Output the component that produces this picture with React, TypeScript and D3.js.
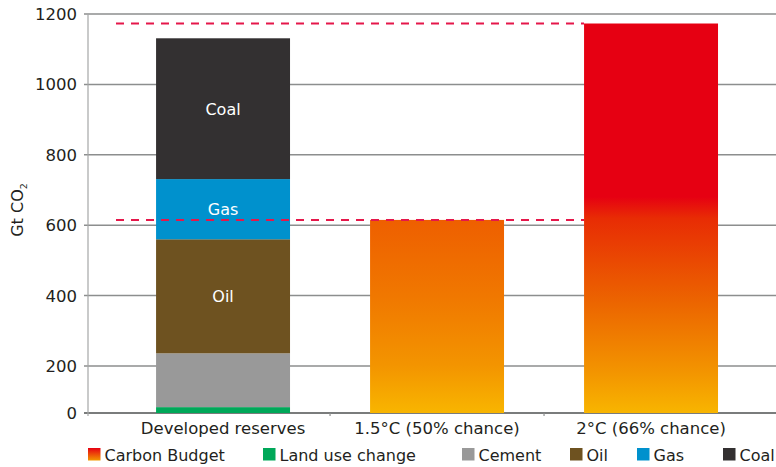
import React from "react";
import * as d3 from "d3";

// Categories along the x axis
const categories = ["Developed reserves", "1.5°C (50% chance)", "2°C (66% chance)"];

// Developed reserves broken down by source (Gt CO2), stacked bottom to top
const sources = ["Land use change", "Cement", "Oil", "Gas", "Coal"];
const reserveValues = [25, 211, 324, 171, 400];
const labelledSources = ["Oil", "Gas", "Coal"];

// Remaining carbon budgets (Gt CO2)
const budgetCategories = ["1.5°C (50% chance)", "2°C (66% chance)"];
const budgetValues = [615, 1173];

// Axis ticks
const yTicks = [0, 200, 400, 600, 800, 1000, 1200];

// Legend entries
const legendLabels = ["Carbon Budget", "Land use change", "Cement", "Oil", "Gas", "Coal"];

const W = 776;
const H = 467;
const FONT = "'DejaVu Sans', 'Open Sans', sans-serif";
const TEXT = "#231f20";

const sourceColor: Record<string, string> = {
  "Land use change": "#00a859",
  Cement: "#999999",
  Oil: "#6e5220",
  Gas: "#0091cd",
  Coal: "#333031",
};

export default function App() {
  // Axis is compressed between 0 and 200
  const y = d3.scaleLinear().domain([0, 200, 1200]).range([413, 366, 14]);
  const x = d3
    .scaleBand<string>()
    .domain(categories)
    .range([88, 776])
    .paddingInner(0.374)
    .paddingOuter(0.2945)
    .align(0.54);
  const bw = x.bandwidth();

  // Stack the reserves
  const stackRow: Record<string, number> = {};
  sources.forEach((s, i) => (stackRow[s] = reserveValues[i]));
  const stacked = d3.stack<Record<string, number>>().keys(sources)([stackRow]);

  const axisX = 88;
  const dashStart = 116;
  const lastBarX = x(categories[2]) as number;

  const legendX = [88, 263, 462, 570, 637, 723];

  return (
    <svg width={W} height={H} style={{ position: "absolute", left: 0, top: 0 }} fontFamily={FONT}>
      <defs>
        <linearGradient id="g15" x1="0" y1="0" x2="0" y2="1">
          <stop offset="0" stopColor="#ee5f00" />
          <stop offset="0.4" stopColor="#f07800" />
          <stop offset="0.75" stopColor="#f39400" />
          <stop offset="1" stopColor="#f8b500" />
        </linearGradient>
        <linearGradient id="g20" x1="0" y1="0" x2="0" y2="1">
          <stop offset="0" stopColor="#e60012" />
          <stop offset="0.445" stopColor="#e60012" />
          <stop offset="0.5" stopColor="#e82c04" />
          <stop offset="0.72" stopColor="#ec6600" />
          <stop offset="0.9" stopColor="#f39600" />
          <stop offset="1" stopColor="#f8b500" />
        </linearGradient>
        <linearGradient id="gLegend" x1="0" y1="0" x2="0" y2="1">
          <stop offset="0" stopColor="#e60012" />
          <stop offset="1" stopColor="#f39800" />
        </linearGradient>
      </defs>

      {/* gridlines and ticks */}
      {yTicks.map((t) => (
        <g key={t}>
          <line
            x1={axisX - 4}
            x2={W}
            y1={y(t)}
            y2={y(t)}
            stroke={t === 0 ? "#7a7c7c" : "#8c8e8e"}
            strokeWidth={t === 0 ? 1.8 : 1.5}
          />
          <text x={77} y={y(t) + 6} textAnchor="end" fontSize={16.5} fill={TEXT}>
            {t}
          </text>
        </g>
      ))}
      <line x1={axisX} x2={axisX} y1={y(1200)} y2={y(0) + 3} stroke="#a5a7a7" strokeWidth={1.2} />
      {[x(categories[1]) as number, x(categories[2]) as number].map((bx, i) => (
        <line
          key={i}
          x1={bx - (x.step() - bw) / 2}
          x2={bx - (x.step() - bw) / 2}
          y1={y(0)}
          y2={y(0) + 3}
          stroke="#8c8e8e"
          strokeWidth={1.2}
        />
      ))}

      {/* y-axis title */}
      <text transform={`translate(23,210) rotate(-90)`} textAnchor="middle" fontSize={16} fill={TEXT}>
        Gt CO<tspan fontSize={9.5} dy={4}>2</tspan>
      </text>

      {/* stacked reserves */}
      {stacked.map((layer) => {
        const [y0, y1] = layer[0];
        const key = layer.key;
        return (
          <g key={key}>
            <rect
              x={x(categories[0])}
              width={bw}
              y={y(y1)}
              height={y(y0) - y(y1)}
              fill={sourceColor[key]}
            />
            {labelledSources.includes(key) && (
              <text
                x={(x(categories[0]) as number) + bw / 2}
                y={(y(y0) + y(y1)) / 2 + 6}
                textAnchor="middle"
                fontSize={16}
                fill="#ffffff"
              >
                {key}
              </text>
            )}
          </g>
        );
      })}

      {/* carbon budgets */}
      {budgetCategories.map((c, i) => (
        <rect
          key={c}
          x={x(c)}
          width={bw}
          y={y(budgetValues[i])}
          height={y(0) - y(budgetValues[i])}
          fill={i === 0 ? "url(#g15)" : "url(#g20)"}
        />
      ))}

      {/* budget reference lines */}
      {budgetValues.map((v, i) => (
        <line
          key={i}
          x1={dashStart}
          x2={lastBarX}
          y1={y(v)}
          y2={y(v)}
          stroke="#e5174a"
          strokeWidth={2}
          strokeDasharray="8 7"
        />
      ))}

      {/* category labels */}
      {categories.map((c) => (
        <text
          key={c}
          x={(x(c) as number) + bw / 2}
          y={433.5}
          textAnchor="middle"
          fontSize={16.5}
          fill={TEXT}
        >
          {c}
        </text>
      ))}

      {/* legend */}
      {legendLabels.map((l, i) => (
        <g key={l} transform={`translate(${legendX[i]},448)`}>
          <rect
            width={12.5}
            height={12.5}
            fill={l === "Carbon Budget" ? "url(#gLegend)" : sourceColor[l]}
          />
          <text x={16.5} y={13} fontSize={16} fill={TEXT}>
            {l}
          </text>
        </g>
      ))}
    </svg>
  );
}
